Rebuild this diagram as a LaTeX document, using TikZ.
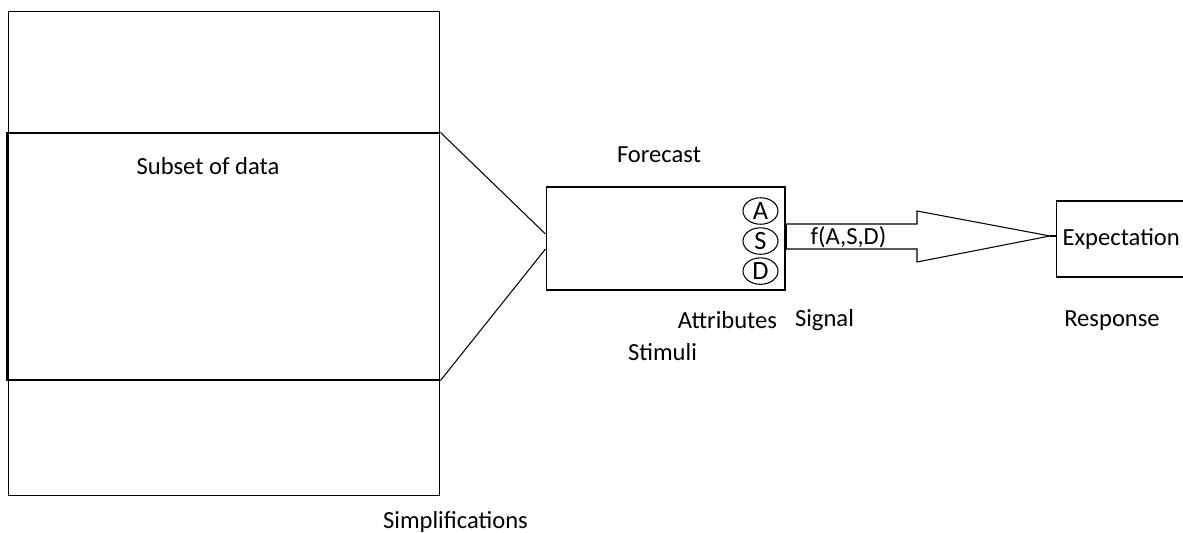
\documentclass[tikz,border=0pt]{standalone}
\usepackage{fontspec}
\setmainfont{Carlito}
\usetikzlibrary{shapes,positioning,calc}

\begin{document}
\begin{tikzpicture}[x=0.02cm,y=-0.02cm,line width=0.6pt]
            \tikzstyle{every node}=[font=\fontsize{14}{16}\selectfont]
            \tikzstyle{box}=[draw,rectangle,inner sep=0pt]
            \tikzstyle{txt}=[inner sep=0pt]
            \tikzstyle{letter}=[draw,ellipse,inner sep=0pt,minimum width=0.7cm,minimum height=0.53cm,font=\fontsize{15}{17}\selectfont]
            \useasboundingbox (0,0) rectangle (1183,533);
            \clip (0,0) rectangle (1183,533);

            \node[box,minimum width=8.64cm,minimum height=9.7cm]  (data)     at (224,253.5) {};
            \node[box,minimum width=8.64cm,minimum height=4.94cm] (subset)   at (224,256.5) {};
            \node[box,minimum width=4.78cm,minimum height=2.06cm] (forecast) at (665.5,238.5) {};
            \node[box,minimum width=2.88cm,minimum height=1.52cm] (expect)   at (1128,239) {};

            \node[letter]   (a)     at (760.5,211)  {A};
            \node[letter]   (s)     [below=0.05cm of a]  {S};
            \node[letter]   (d)     [below=0.05cm of s]  {D};

            \node[txt]  (subsetlbl) at (208,166)    {Subset of data};
            \node[txt]  (simp)      at (455.5,522)  {Simplifications};
            \node[txt]  (fore)      at (659,155)    {Forecast};
            \node[txt]  (attr)      at (727.5,320)  {Attributes};
            \node[txt]  (signal)    at (824.5,320)  {Signal};
            \node[txt]  (stim)      at (662.5,352)  {Stimuli};
            \node[txt]  (resp)      at (1112,321)   {Response};
            \node[txt,anchor=west]  (expectlbl) at (1062,239) {Expectation};
            \node[txt]  (func)      at (848.5,237)  {f(A,S,D)};

            \draw[line width=1.2pt] (subset.north west) -- (subset.south west);
            \draw (subset.north east) -- ($(forecast.west)+(0,-4.5)$);
            \draw (subset.south east) -- ($(forecast.west)+(0,10.5)$);

            \coordinate (tip) at (1050,236);
            \draw (forecast.east |- 0,224) -- (917,224) -- (917,211) -- (tip)
                  -- (917,262) -- (917,249) -- (forecast.east |- 0,249);
            \draw[line width=1.2pt] (forecast.east |- 0,224) -- (forecast.east |- 0,249);
            \draw[line width=1.2pt] (tip) -- (tip -| expect.west);
        \end{tikzpicture}
\end{document}
